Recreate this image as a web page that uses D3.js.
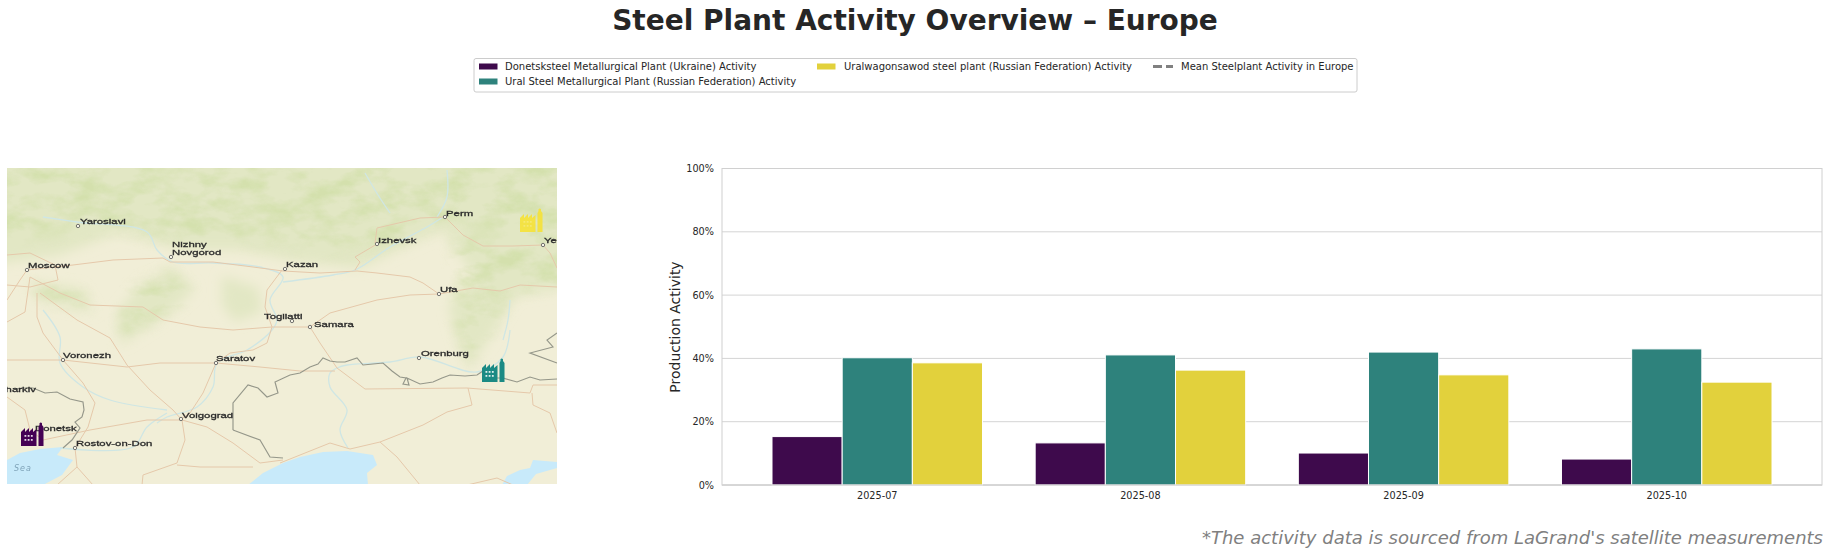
<!DOCTYPE html>
<html><head><meta charset="utf-8">
<script src="https://cdn.jsdelivr.net/npm/d3@7"></script>
<style>
html,body{margin:0;padding:0;background:#fff}
svg{display:block}
text{font-family:"DejaVu Sans",sans-serif}
.city{font-family:"Liberation Sans",sans-serif;font-size:8px;fill:#2b2b2b;stroke:#2b2b2b;stroke-width:.3px}
</style></head><body>
<svg id="c" width="1828" height="554"></svg>
<script>
// ---------- chart data ----------
const months = ["2025-07","2025-08","2025-09","2025-10"];
const seriesNames = ["Donetsksteel Metallurgical Plant (Ukraine) Activity","Ural Steel Metallurgical Plant (Russian Federation) Activity","Uralwagonsawod steel plant (Russian Federation) Activity"];
const meanLabel = "Mean Steelplant Activity in Europe";
const donetsk = [15.3,13.3,10.1,8.2];
const uralSteel = [40.2,41.1,42.0,43.0];
const uralwagon = [38.6,36.3,34.8,32.5];
const yTicks = [0,20,40,60,80,100];
const barColors = ["#3e0a4c","#2e827c","#e2d13c"];

// ---------- basemap data (in basemap pixel units) ----------
const plants = [[21,422,"#440154",1,.85],[482,358,"#1b8a84",1,.85],[520,208,"#f7e22f",.85,.25]];
const cities = [
 ["Yaroslavl",78,226,80,224],["Nizhny",null,null,172,247],["Novgorod",171,257,172,254.5],["Moscow",27,270,28,267.5],
 ["Kazan",285,269,286,267],["Izhevsk",377,244,378,242.5],["Perm",445,217,446,215.5],["Ufa",439,294,440,291.5],
 ["Togliatti",292,321,264,318.5],["Samara",310,327,314,326.5],["Voronezh",63,360,63,357.5],["Saratov",216,363,216,360.5],
 ["Orenburg",419,358,421,355.5],["Volgograd",181,419,182,417.5],["Kharkiv",null,null,-2,391.5],["Donetsk",null,null,35,430.5],
 ["Rostov-on-Don",75,448,76,446],["Yekaterinburg",543,245,544,243]
];
const greens = [
 [[-30,130],[590,130],[590,262],[490,245],[455,225],[420,240],[360,268],[300,262],[240,250],[180,250],[120,232],[60,255],[-30,268]],
 [[440,225],[500,240],[590,230],[590,285],[515,296],[495,330],[468,370],[456,335],[448,305],[476,280]],
 [[140,285],[172,268],[195,290],[160,320],[120,345],[118,312]],
 [[222,276],[258,288],[262,312],[235,322],[222,305]],
 [[30,282],[80,288],[95,312],[60,305],[35,298]],
 [[310,238],[375,226],[395,250],[350,268],[320,262]]
];
const greensDark = [
 [[-20,150],[590,150],[590,250],[500,235],[455,215],[400,240],[330,250],[240,238],[180,240],[100,225],[-20,245]],
 [[455,235],[510,240],[590,230],[590,280],[510,292],[490,330],[468,362],[458,320]],
 [[130,290],[170,272],[190,295],[150,320],[120,338]],
 [[30,285],[80,290],[90,310],[50,300]]
];
const waters = [
 [[7,460],[20,453],[40,449],[63,447],[57,455],[73,460],[62,475],[43,485],[7,485]],
 [[248,485],[263,473],[283,463],[300,457],[323,452],[347,451],[373,455],[377,465],[367,473],[368,485]],
 [[502,485],[507,476],[520,470],[530,468],[533,460],[557,462],[557,468],[536,474],[527,485]]
];
const rivers = [
 [[43,217],[77,222],[147,232],[157,250],[173,262],[213,263],[260,267],[283,277],[270,300],[277,320],[272,330],[247,350],[217,363],[213,387],[197,407],[167,417],[157,423]],
 [[283,282],[333,275],[355,270],[390,247],[427,227],[443,217]],
 [[43,310],[60,337],[60,363],[83,387],[110,400],[167,410]],
 [[167,413],[147,427],[133,447],[60,448]],
 [[365,173],[378,195],[390,213]],[[447,170],[447,197],[437,217]],
 [[510,330],[503,357],[477,372],[420,357],[390,362],[347,365],[337,368],[330,373],[330,387],[347,410],[340,430],[348,448]],
 [[510,300],[508,320],[503,340]]
];
const roads = [
 [[27,270],[73,265],[113,260],[163,258],[170,262],[213,262],[253,267],[283,271],[320,273],[357,271],[377,273],[410,277],[423,283],[439,294],[473,288],[500,291],[520,285],[557,287]],
 [[310,327],[330,313],[377,300],[410,295],[439,294]],
 [[445,217],[420,218],[377,228],[375,243],[377,244],[355,257],[360,262],[355,270]],
 [[445,217],[463,235],[483,246],[513,246],[543,245],[550,253],[557,268]],
 [[282,270],[267,290],[265,307],[272,327],[267,343],[253,350],[230,353],[216,363]],
 [[30,277],[60,293],[90,305],[143,307],[163,320],[200,327],[233,330],[272,327],[310,327]],
 [[37,293],[37,317],[43,333],[63,360]],
 [[40,293],[77,320],[110,338],[127,365],[150,390],[173,410],[181,419]],
 [[7,360],[63,360],[127,367],[160,363],[216,363],[260,367],[300,371],[335,371]],
 [[63,360],[83,383],[95,403],[88,427],[75,448]],
 [[216,363],[203,393],[190,413],[181,419]],
 [[310,327],[320,343],[337,368],[365,389],[467,388],[530,393],[533,385],[557,385]],
 [[468,388],[472,405],[447,412],[423,425],[380,442],[350,449],[330,443],[280,463]],
 [[380,442],[397,457],[420,485]],
 [[532,393],[533,405],[550,413],[557,433]],
 [[467,485],[497,478],[513,485]],
 [[180,420],[147,420],[90,430],[43,440]],
 [[182,420],[207,427],[233,443],[260,463],[283,460]],
 [[182,420],[185,440],[177,463],[143,475],[142,485]],
 [[177,465],[200,467],[253,467]],
 [[75,448],[77,467],[57,485]],[[77,467],[93,485]],
 [[7,300],[20,280],[27,270]],[[7,322],[25,312],[30,277]],
 [[7,255],[30,253],[55,265],[58,280],[30,287],[7,285]],
 [[7,397],[25,410],[30,430],[43,440]]
];
const borders = [
 [[14,389],[25,388],[33,388],[45,393],[57,392],[70,399],[83,402],[84,410],[82,417],[75,422],[80,428],[72,440],[63,448]],
 [[233,430],[233,403],[248,385],[258,388],[267,397],[278,393],[275,382],[290,375],[300,373],[310,367],[318,364],[323,358],[330,361],[337,362],[345,362],[357,358],[363,365],[373,364],[383,363],[392,371],[400,377],[406,378],[403,384],[409,385],[407,378],[420,384],[433,382],[442,378],[450,375],[465,376],[477,375],[483,371],[495,378],[503,378],[517,382],[530,377],[540,380],[557,379]],
 [[233,430],[260,440],[270,457],[283,458]],
 [[557,333],[547,340],[553,347],[530,353],[557,363]]
];
const seaLabel = "Sea";

// ---------- layout ----------
const svg = d3.select("#c");
const plot={l:722,r:1822,t:168.5,b:485};
const mapBox={l:7,r:557,t:168,b:484};

// defs
const defs=svg.append("defs");
defs.append("clipPath").attr("id","mapclip").append("rect").attr("x",mapBox.l).attr("y",mapBox.t).attr("width",mapBox.r-mapBox.l).attr("height",mapBox.b-mapBox.t);
defs.append("filter").attr("id","b6").attr("x","-10%").attr("y","-10%").attr("width","120%").attr("height","120%").append("feGaussianBlur").attr("stdDeviation",6);
defs.append("filter").attr("id","b05").append("feGaussianBlur").attr("stdDeviation",0.55);
const mot=defs.append("filter").attr("id","mottle").attr("x","-5%").attr("y","-5%").attr("width","110%").attr("height","110%").attr("color-interpolation-filters","sRGB");
mot.append("feTurbulence").attr("type","fractalNoise").attr("baseFrequency","0.03 0.055").attr("numOctaves",4).attr("seed",7).attr("result","n");
mot.append("feColorMatrix").attr("in","n").attr("type","matrix").attr("values","0 0 0 0 0.83  0 0 0 0 0.88  0 0 0 0 0.68  3 0 0 0 -1.2").attr("result","m");
mot.append("feGaussianBlur").attr("in","SourceGraphic").attr("stdDeviation",7).attr("result","s");
mot.append("feComposite").attr("in","m").attr("in2","s").attr("operator","in");

// ---------- title / footnote ----------
svg.append("text").attr("x",915).attr("y",29.5).attr("text-anchor","middle")
  .attr("font-size",28).attr("font-weight",700).attr("fill","#262626").text("Steel Plant Activity Overview – Europe");
svg.append("text").attr("x",1823).attr("y",544).attr("text-anchor","end").attr("font-style","italic")
  .attr("font-size",18).attr("fill","#808080").text("*The activity data is sourced from LaGrand's satellite measurements");

// ---------- basemap ----------
const mx=d3.scaleLinear().domain([mapBox.l,mapBox.r]).range([mapBox.l,mapBox.r]);
const my=d3.scaleLinear().domain([mapBox.t,mapBox.b]).range([mapBox.t,mapBox.b]);
const lineGen=d3.line().x(d=>mx(d[0])).y(d=>my(d[1]));
const curve=d3.line().x(d=>mx(d[0])).y(d=>my(d[1])).curve(d3.curveCatmullRom.alpha(.5));
const m=svg.append("g").attr("clip-path","url(#mapclip)");
m.append("rect").attr("x",mapBox.l).attr("y",mapBox.t).attr("width",mapBox.r-mapBox.l).attr("height",mapBox.b-mapBox.t).attr("fill","#f1eed7");
m.append("g").attr("filter","url(#b6)").selectAll("path").data(greens).join("path").attr("d",d=>lineGen(d)+"Z").attr("fill","#e2e7c4");
m.append("g").attr("filter","url(#mottle)").selectAll("path").data(greensDark).join("path").attr("d",d=>lineGen(d)+"Z").attr("fill","#000");
const sharp=m.append("g").attr("filter","url(#b05)");
sharp.selectAll(".w").data(waters).join("path").attr("class","w").attr("d",d=>lineGen(d)+"Z").attr("fill","#c8eafa");
sharp.selectAll(".riv").data(rivers).join("path").attr("class","riv").attr("d",curve).attr("fill","none").attr("stroke","#cfe6e4").attr("stroke-width",1.3);
sharp.selectAll(".rd").data(roads).join("path").attr("class","rd").attr("d",lineGen).attr("fill","none").attr("stroke","#e5c8aa").attr("stroke-width",1);
sharp.selectAll(".bd").data(borders).join("path").attr("class","bd").attr("d",lineGen).attr("fill","none").attr("stroke","#95978a").attr("stroke-width",1.15);
sharp.append("text").attr("x",mx(14)).attr("y",my(471)).attr("font-size",8).attr("font-style","italic").attr("letter-spacing",1).attr("fill","#7fa3b8").attr("font-family","Liberation Sans").text(seaLabel);
const cg=sharp.append("g");
cities.filter(c=>c[1]!==null).forEach(c=>{
  cg.append("circle").attr("cx",mx(c[1])).attr("cy",my(c[2])).attr("r",1.7).attr("fill","#f5f3e6").attr("stroke","#555").attr("stroke-width",.8);
});
cities.forEach(c=>{
  cg.append("text").attr("class","city").attr("transform",`translate(${mx(c[3])},${my(c[4])}) scale(1.42,1)`).text(c[0]);
});
// plant icons
const iconPath="M0 24 V10 L4 6 V10 L8 6 V10 L12 6 V10 L15.5 7 V24 Z M17.5 24 V5 L18.5 3 V1.2 A1.7 1.7 0 0 1 21 1.2 V3 L22.5 5 V24 Z";
const icons=m.selectAll(".ic").data(plants).join("g").attr("class","ic").attr("transform",d=>`translate(${mx(d[0])},${my(d[1])})`).attr("opacity",d=>d[3]);
icons.append("path").attr("d",iconPath).attr("fill",d=>d[2]);
icons.each(function(p){
  const g=d3.select(this);
  for(const r of [13,17]) for(const c of [3.5,6.7,9.9]) g.append("rect").attr("x",c).attr("y",r).attr("width",1.8).attr("height",1.8).attr("fill","#fff").attr("opacity",p[4]);
});

// ---------- bars ----------
const x=d3.scaleBand().domain(months).range([plot.l,plot.r]).paddingInner(.2).paddingOuter(.19);
const sx=d3.scaleBand().domain(d3.range(3)).range([0,x.bandwidth()]);
const y=d3.scaleLinear().domain([0,100]).range([plot.b,plot.t]);

svg.append("g").selectAll("line").data(yTicks).join("line")
  .attr("x1",plot.l).attr("x2",plot.r).attr("y1",d=>y(d)).attr("y2",d=>y(d)).attr("stroke","#d4d4d4").attr("stroke-width",1);
svg.append("rect").attr("x",plot.l).attr("y",plot.t).attr("width",plot.r-plot.l).attr("height",plot.b-plot.t).attr("fill","none").attr("stroke","#d0d0d0").attr("stroke-width",1);

[donetsk,uralSteel,uralwagon].forEach((vals,i)=>{
  svg.append("g").selectAll("rect").data(vals).join("rect")
   .attr("x",(d,j)=>x(months[j])+sx(i)).attr("width",sx.bandwidth())
   .attr("y",d=>y(d)).attr("height",d=>y(0)-y(d))
   .attr("fill",barColors[i]).attr("stroke","#fff").attr("stroke-width",1);
});
svg.append("path").attr("d",`M${plot.l} ${plot.b}H${plot.r}`).attr("stroke","#d0d0d0");

const yAxis=d3.axisLeft(y).tickValues(yTicks).tickSize(0).tickPadding(8).tickFormat(d=>d+"%");
const ya=svg.append("g").attr("transform",`translate(${plot.l},0)`).call(yAxis);
ya.select(".domain").remove();
ya.selectAll("text").attr("font-size",9.7).attr("fill","#262626").attr("font-family","DejaVu Sans");
const xAxis=d3.axisBottom(x).tickSize(0).tickPadding(7);
const xa=svg.append("g").attr("transform",`translate(0,${plot.b})`).call(xAxis);
xa.select(".domain").remove();
xa.selectAll("text").attr("font-size",9.7).attr("fill","#262626").attr("font-family","DejaVu Sans");

svg.append("text").attr("transform",`translate(680,327) rotate(-90)`).attr("text-anchor","middle")
  .attr("font-size",14).attr("fill","#262626").text("Production Activity");

// ---------- legend ----------
const lg=svg.append("g");
lg.append("rect").attr("x",474).attr("y",58.5).attr("width",883).attr("height",33.5).attr("rx",2).attr("fill","#fff").attr("stroke","#cccccc");
const legendItems=[
 {t:seriesNames[0],c:barColors[0],sx:479,tx:505,y:66.5},
 {t:seriesNames[1],c:barColors[1],sx:479,tx:505,y:81.5},
 {t:seriesNames[2],c:barColors[2],sx:817,tx:844,y:66.5}
];
legendItems.forEach(it=>{
  lg.append("rect").attr("x",it.sx).attr("y",it.y-3).attr("width",18.5).attr("height",6).attr("fill",it.c);
  lg.append("text").attr("x",it.tx).attr("y",it.y+3.6).attr("font-size",10).attr("fill","#262626").text(it.t);
});
lg.append("line").attr("x1",1153).attr("x2",1173).attr("y1",66.5).attr("y2",66.5).attr("stroke","#808080").attr("stroke-width",2.8).attr("stroke-dasharray","9 4 7 0");
lg.append("text").attr("x",1181).attr("y",70.1).attr("font-size",10).attr("fill","#262626").text(meanLabel);
</script>
</body></html>
